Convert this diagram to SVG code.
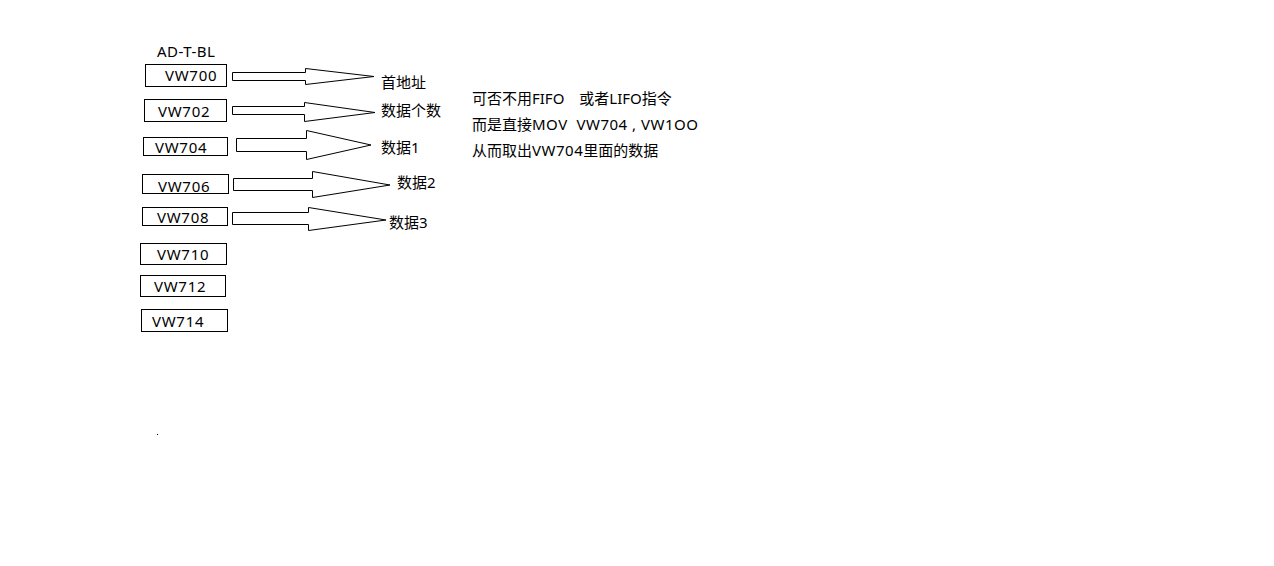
<svg xmlns="http://www.w3.org/2000/svg" width="1274" height="566" viewBox="0 0 1274 566">
<style>
text{font-family:"Noto Sans","Noto Sans CJK SC",sans-serif;font-size:15px;fill:#000}
.vw{letter-spacing:0.7px}
.ls{letter-spacing:0.5px}
.box{fill:#fff;stroke:#000;stroke-width:1}
.arr{fill:#fff;stroke:#000;stroke-width:1;stroke-linejoin:miter}
</style>
<rect width="1274" height="566" fill="#fff"/>
<text class="ls" x="157" y="57">AD-T-BL</text>
<g id="n700"><rect class="box" x="145.5" y="64.5" width="81" height="22"/><text class="vw" x="165" y="80.5">VW700</text></g>
<g id="n702"><rect class="box" x="144.5" y="99.5" width="82" height="22"/><text class="vw" x="158" y="116.5">VW702</text></g>
<g id="n704"><rect class="box" x="143.5" y="137.5" width="84" height="18"/><text class="vw" x="155" y="152.5">VW704</text></g>
<g id="n706"><rect class="box" x="142.5" y="174.5" width="86" height="19"/><text class="vw" x="158" y="191.5">VW706</text></g>
<g id="n708"><rect class="box" x="142.5" y="207.5" width="85" height="18"/><text class="vw" x="157" y="223">VW708</text></g>
<g id="n710"><rect class="box" x="140.5" y="243.5" width="86" height="21"/><text class="vw" x="157" y="260">VW710</text></g>
<g id="n712"><rect class="box" x="140.5" y="275.5" width="85" height="21"/><text class="vw" x="154" y="292">VW712</text></g>
<g id="n714"><rect class="box" x="141.5" y="309.5" width="86" height="22"/><text class="vw" x="152" y="327">VW714</text></g>
<g id="connectors">
<polygon class="arr" points="232.5,72.5 305.5,72.5 305.5,68.5 374,76.5 305.5,84.5 305.5,80.5 232.5,80.5"/>
<polygon class="arr" points="232.5,106.5 304.5,106.5 304.5,102.5 375,112.5 304.5,121.5 304.5,114.5 232.5,114.5"/>
<polygon class="arr" points="236.5,138.5 306.5,138.5 306.5,130.5 371,145 306.5,159.5 306.5,151.5 236.5,151.5"/>
<polygon class="arr" points="233.5,178.5 312.5,178.5 312.5,171.5 390,185 312.5,197.5 312.5,190.5 233.5,190.5"/>
<polygon class="arr" points="232.5,212.5 308.5,212.5 308.5,207.5 386,220 308.5,230.5 308.5,224.5 232.5,224.5"/>
</g>
<g id="labels">
<text x="381" y="88">首地址</text>
<text x="381" y="116">数据个数</text>
<text x="381" y="153">数据1</text>
<text x="397" y="188">数据2</text>
<text x="389" y="228">数据3</text>
</g>
<g id="note">
<text x="472" y="104">可否不用FIFO　或者LIFO指令</text>
<text x="472" y="130" xml:space="preserve" style="white-space:pre">而是直接<tspan class="ls">MOV  VW704 , VW1OO</tspan></text>
<text x="472" y="156">从而取出<tspan class="ls">VW704</tspan>里面的数据</text>
</g>
<rect x="157" y="434" width="1" height="1" fill="#000"/>
</svg>
